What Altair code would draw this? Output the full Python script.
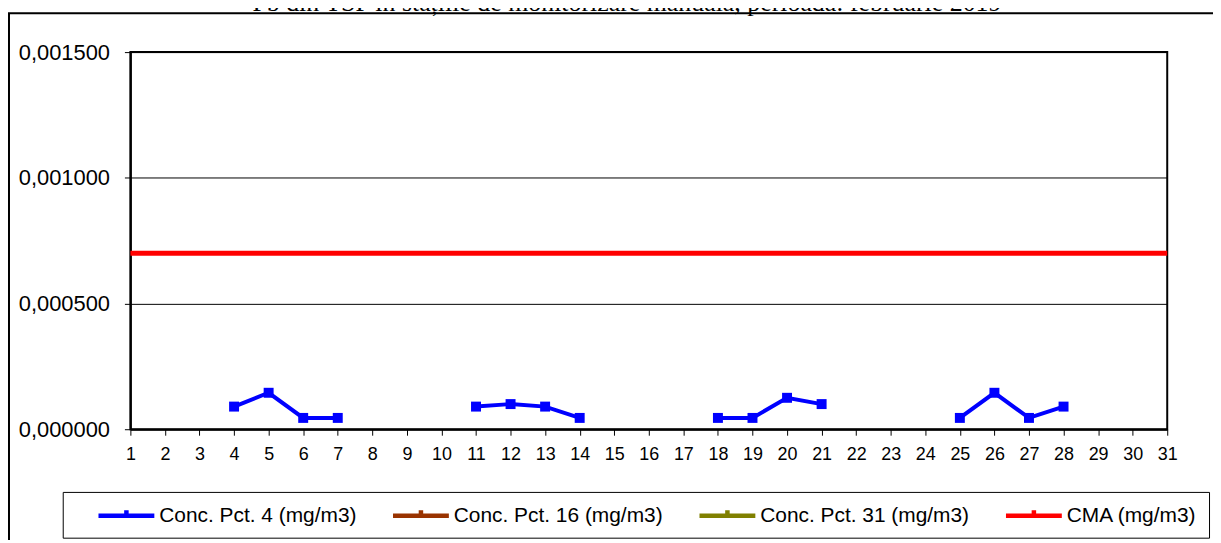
import altair as alt
import pandas as pd

# ---- data ----
days = list(range(1, 32))
pct4_days = [4, 5, 6, 7, 11, 12, 13, 14, 18, 19, 20, 21, 25, 26, 27, 28]
pct4_vals = [0.00009, 0.000145, 0.000045, 0.000045,
             0.00009, 0.0001, 0.00009, 0.000045,
             0.000045, 0.000045, 0.000125, 0.0001,
             0.000045, 0.000145, 0.000045, 0.00009]
cma_value = 0.0007
series_names = ["Conc. Pct. 4 (mg/m3)", "Conc. Pct. 16 (mg/m3)",
                "Conc. Pct. 31 (mg/m3)", "CMA (mg/m3)"]
series_colors = ["#0000FF", "#993300", "#808000", "#FF0000"]
y_ticks = [0, 0.0005, 0.001, 0.0015]
title_text = "Pb din TSP în stațiile de monitorizare manuală, perioada: februarie 2019"

# ---- build tables ----
rows = []
seg = 0
prev = None
for d, v in zip(pct4_days, pct4_vals):
    if prev is None or d - prev > 1:
        seg += 1
    prev = d
    rows.append({"day": d, "value": v, "series": series_names[0], "seg": f"p{seg}", "w": 4})
for d in days:
    rows.append({"day": d, "value": cma_value, "series": series_names[3], "seg": "cma", "w": 5})
df = pd.DataFrame(rows)
pts = df[df["series"] == series_names[0]]

W, H = 1042, 379

color_scale = alt.Scale(domain=series_names, range=series_colors)
x_scale = alt.Scale(domain=[1, 31], nice=False)
y_scale = alt.Scale(domain=[0, 0.0015], nice=False)
x_axis = alt.Axis(values=days, title=None, grid=False, format="d",
                  domainColor="black", domainWidth=2, tickColor="black",
                  tickSize=6, tickWidth=1, labelColor="black",
                  labelFont="Liberation Sans", labelFontSize=18,
                  labelPadding=10, labelFlush=False, labelOverlap=False,
                  labelBound=False)
y_axis = alt.Axis(values=y_ticks, title=None, grid=True, gridColor="black",
                  gridWidth=1, gridOpacity=1,
                  domainColor="black", domainWidth=2, tickColor="black",
                  tickSize=6, tickWidth=1, labelColor="black",
                  labelFont="Liberation Sans", labelFontSize=22,
                  labelPadding=15, labelOverlap=False,
                  labelExpr="replace(format(datum.value, '.6f'), '.', ',')")
x_enc = alt.X("day:Q", scale=x_scale, axis=x_axis)
y_enc = alt.Y("value:Q", scale=y_scale, axis=y_axis)

legend = alt.Legend(
    title=None, orient="none", legendX=-68, legendY=442, direction="horizontal",
    columns=4, columnPadding=12, labelFont="Liberation Sans", labelFontSize=21,
    labelColor="black", labelLimit=400, labelOffset=21,
    symbolType="M-3,0H3M0,-0.6V0", symbolSize=350, symbolStrokeWidth=4.5,
    symbolOffset=40, padding=12, strokeColor="black", fillColor="white",
    labelBaseline="middle",
)

lines = alt.Chart(df).mark_line(strokeCap="butt").encode(
    x=x_enc, y=y_enc,
    color=alt.Color("series:N", scale=color_scale, legend=legend),
    detail="seg:N",
    strokeWidth=alt.StrokeWidth("w:Q", scale=None),
)

points = alt.Chart(pts).mark_square(size=100, opacity=1).encode(
    x=x_enc, y=y_enc,
    color=alt.Color("series:N", scale=color_scale, legend=legend),
)

border = alt.Chart(pd.DataFrame({"k": [0]})).mark_rect(
    fill=None, stroke="black", strokeWidth=2
).encode(
    x=alt.value(-122), y=alt.value(-39), x2=alt.value(1200), y2=alt.value(600)
)

chart = alt.layer(border, lines, points).properties(
    width=W, height=H,
    background="white",
    title=alt.TitleParams(title_text, font="Liberation Serif", fontSize=26,
                          fontWeight="normal", color="black", anchor="middle",
                          offset=-4, dx=-22),
    autosize=alt.AutoSizeParams(type="none"),
    padding={"left": 123, "top": 43, "right": 46, "bottom": 110},
).configure_view(stroke="black", strokeWidth=2).configure_axis(
    labelOverlap=False
)

chart.save("out.html", embed_options={"renderer": "svg", "actions": False})
